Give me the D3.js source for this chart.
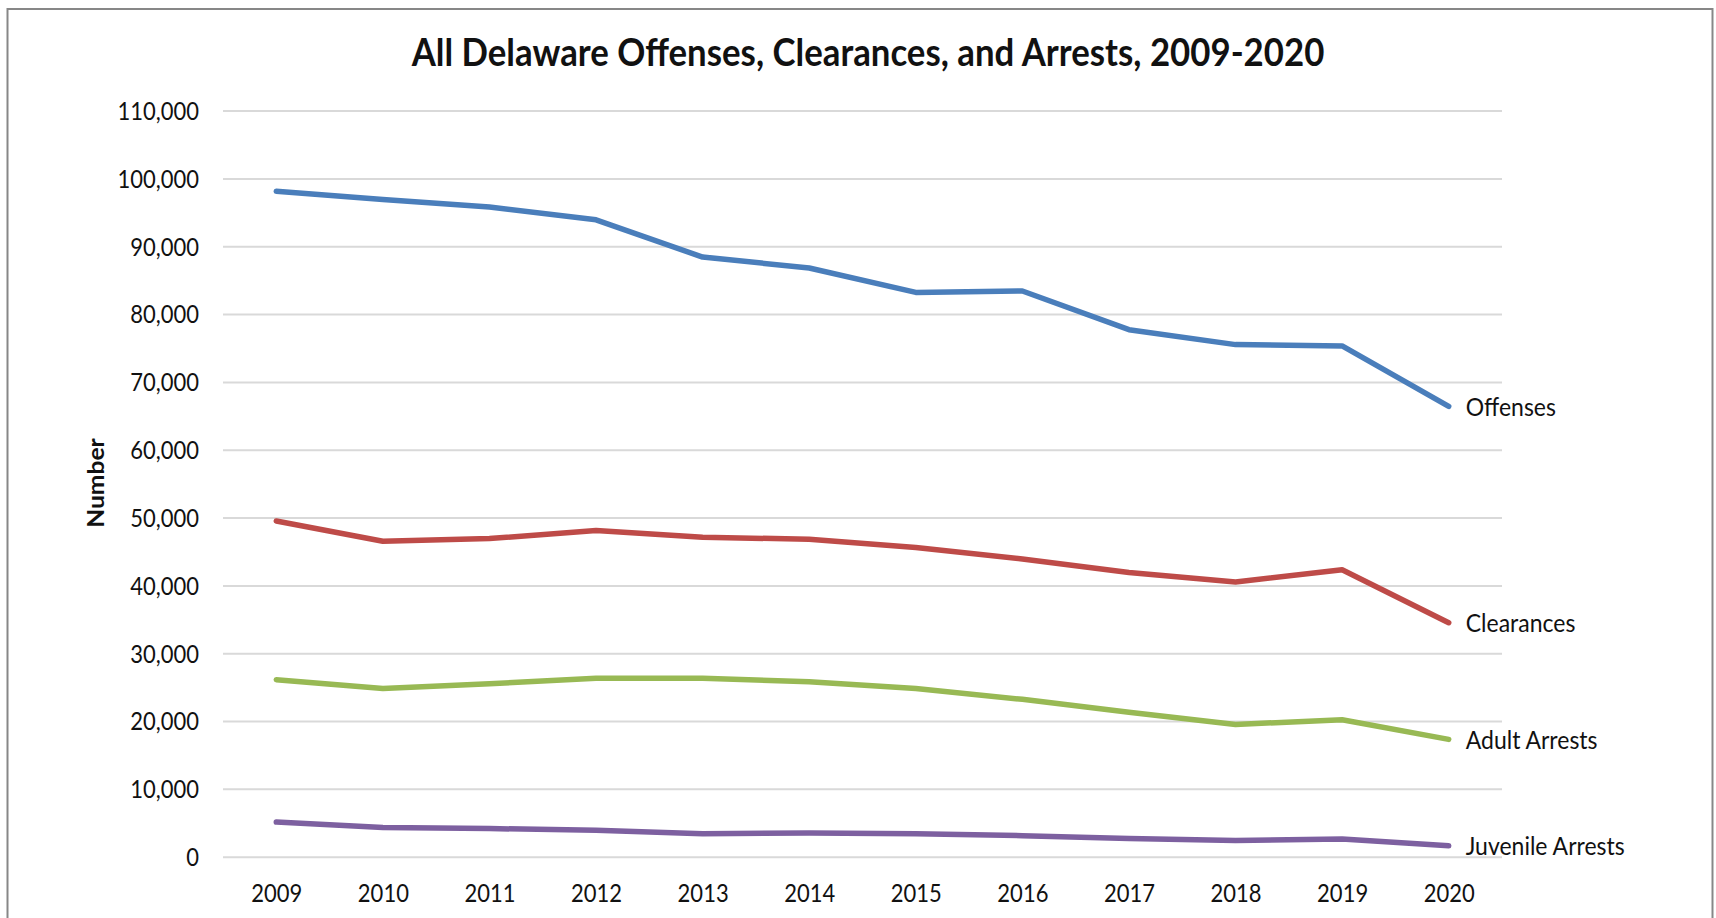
<!DOCTYPE html>
<html>
<head>
<meta charset="utf-8">
<script src="https://cdn.jsdelivr.net/npm/d3@7"></script>
<style>
  body { margin: 0; background: #fff; }
  svg { display: block; }
  text { font-family: Lato, "Open Sans", sans-serif; fill: #111; }
</style>
</head>
<body>
<svg id="chart" width="1716" height="918"></svg>
<script>

var years = [2009, 2010, 2011, 2012, 2013, 2014, 2015, 2016, 2017, 2018, 2019, 2020];

var offenses    = [98100, 96900, 95800, 93900, 88400, 86800, 83200, 83400, 77700, 75500, 75300, 66400];
var clearances  = [49500, 46500, 46900, 48100, 47100, 46800, 45600, 43900, 41900, 40500, 42300, 34500];
var adultArr    = [26100, 24800, 25500, 26300, 26300, 25800, 24800, 23200, 21300, 19500, 20200, 17300];
var juvenileArr = [5100, 4300, 4150, 3900, 3400, 3500, 3400, 3100, 2700, 2400, 2600, 1600];

var seriesNames = ["Offenses", "Clearances", "Adult Arrests", "Juvenile Arrests"];
var seriesColors = ["#4a7ebb", "#be4b48", "#98b954", "#7d60a0"];

var yTicks = [0, 10000, 20000, 30000, 40000, 50000, 60000, 70000, 80000, 90000, 100000, 110000];

var title = "All Delaware Offenses, Clearances, and Arrests, 2009-2020";
var yAxisLabel = "Number";

// the source picture is a bit taller than wide, so text gets stretched vertically
var SY = 1.12;

var series = [offenses, clearances, adultArr, juvenileArr].map(function(vals, i) {
  return { name: seriesNames[i], color: seriesColors[i],
           values: vals.map(function(v, j) { return { year: years[j], value: v }; }) };
});

var svg = d3.select("#chart"),
    plot = {x0: 223, x1: 1502, y0: 110.6, y1: 856.7};

svg.append("rect")
    .attr("x", 7.5).attr("y", 9).attr("width", 1705).attr("height", 1000)
    .attr("fill", "#fff").attr("stroke", "#878787").attr("stroke-width", 2);

var x = d3.scalePoint()
    .domain(years)
    .range([plot.x0, plot.x1])
    .padding(0.5);

var y = d3.scaleLinear()
    .domain([0, 110000])
    .range([plot.y1, plot.y0]);

// gridlines
var grid = svg.append("g")
    .attr("transform", "translate(" + plot.x0 + ",0)")
    .call(d3.axisLeft(y).tickValues(yTicks).tickSize(-(plot.x1 - plot.x0)).tickFormat(""));
grid.select(".domain").remove();
grid.selectAll(".tick line").attr("stroke", "#d9d9d9").attr("stroke-width", 2);

// y tick labels
var yAxis = svg.append("g")
    .attr("transform", "translate(" + plot.x0 + ",0)")
    .call(d3.axisLeft(y).tickValues(yTicks).tickSize(0).tickPadding(24).tickFormat(d3.format(",")));
yAxis.select(".domain").remove();
yAxis.selectAll(".tick text")
    .attr("font-size", 22)
    .attr("fill", "#111")
    .attr("dy", "0.36em")
    .attr("transform", "scale(1," + SY + ")");

// x tick labels
var xAxis = svg.append("g")
    .attr("transform", "translate(0,901.5)")
    .call(d3.axisBottom(x).tickSize(0).tickPadding(0));
xAxis.select(".domain").remove();
xAxis.selectAll(".tick text")
    .attr("font-size", 22)
    .attr("fill", "#111")
    .attr("y", 0).attr("dy", 0)
    .attr("transform", "scale(1," + SY + ")");

var line = d3.line()
    .x(function(d) { return x(d.year); })
    .y(function(d) { return y(d.value); });

svg.selectAll(".series")
    .data(series)
  .enter().append("path")
    .attr("class", "series")
    .attr("fill", "none")
    .attr("stroke", function(d) { return d.color; })
    .attr("stroke-width", 5.5)
    .attr("stroke-linejoin", "round")
    .attr("stroke-linecap", "round")
    .attr("d", function(d) { return line(d.values); });

// labels at the line ends
svg.selectAll(".endlabel")
    .data(series)
  .enter().append("g")
    .attr("class", "endlabel")
    .attr("transform", function(d) {
      var last = d.values[d.values.length - 1];
      return "translate(" + (x(last.year) + 17) + "," + y(last.value) + ") scale(1," + SY + ")";
    })
  .append("text")
    .attr("font-size", 23)
    .attr("dy", "0.36em")
    .text(function(d) { return d.name; });

// title
svg.append("g")
    .attr("transform", "translate(868,66) scale(1," + SY + ")")
  .append("text")
    .attr("text-anchor", "middle")
    .attr("font-size", 34.8)
    .attr("font-weight", "bold")
    .text(title);

// y axis title
svg.append("g")
    .attr("transform", "translate(104,483) scale(1," + SY + ") rotate(-90)")
  .append("text")
    .attr("text-anchor", "middle")
    .attr("font-size", 22)
    .attr("font-weight", "bold")
    .text(yAxisLabel);

</script>
</body>
</html>
